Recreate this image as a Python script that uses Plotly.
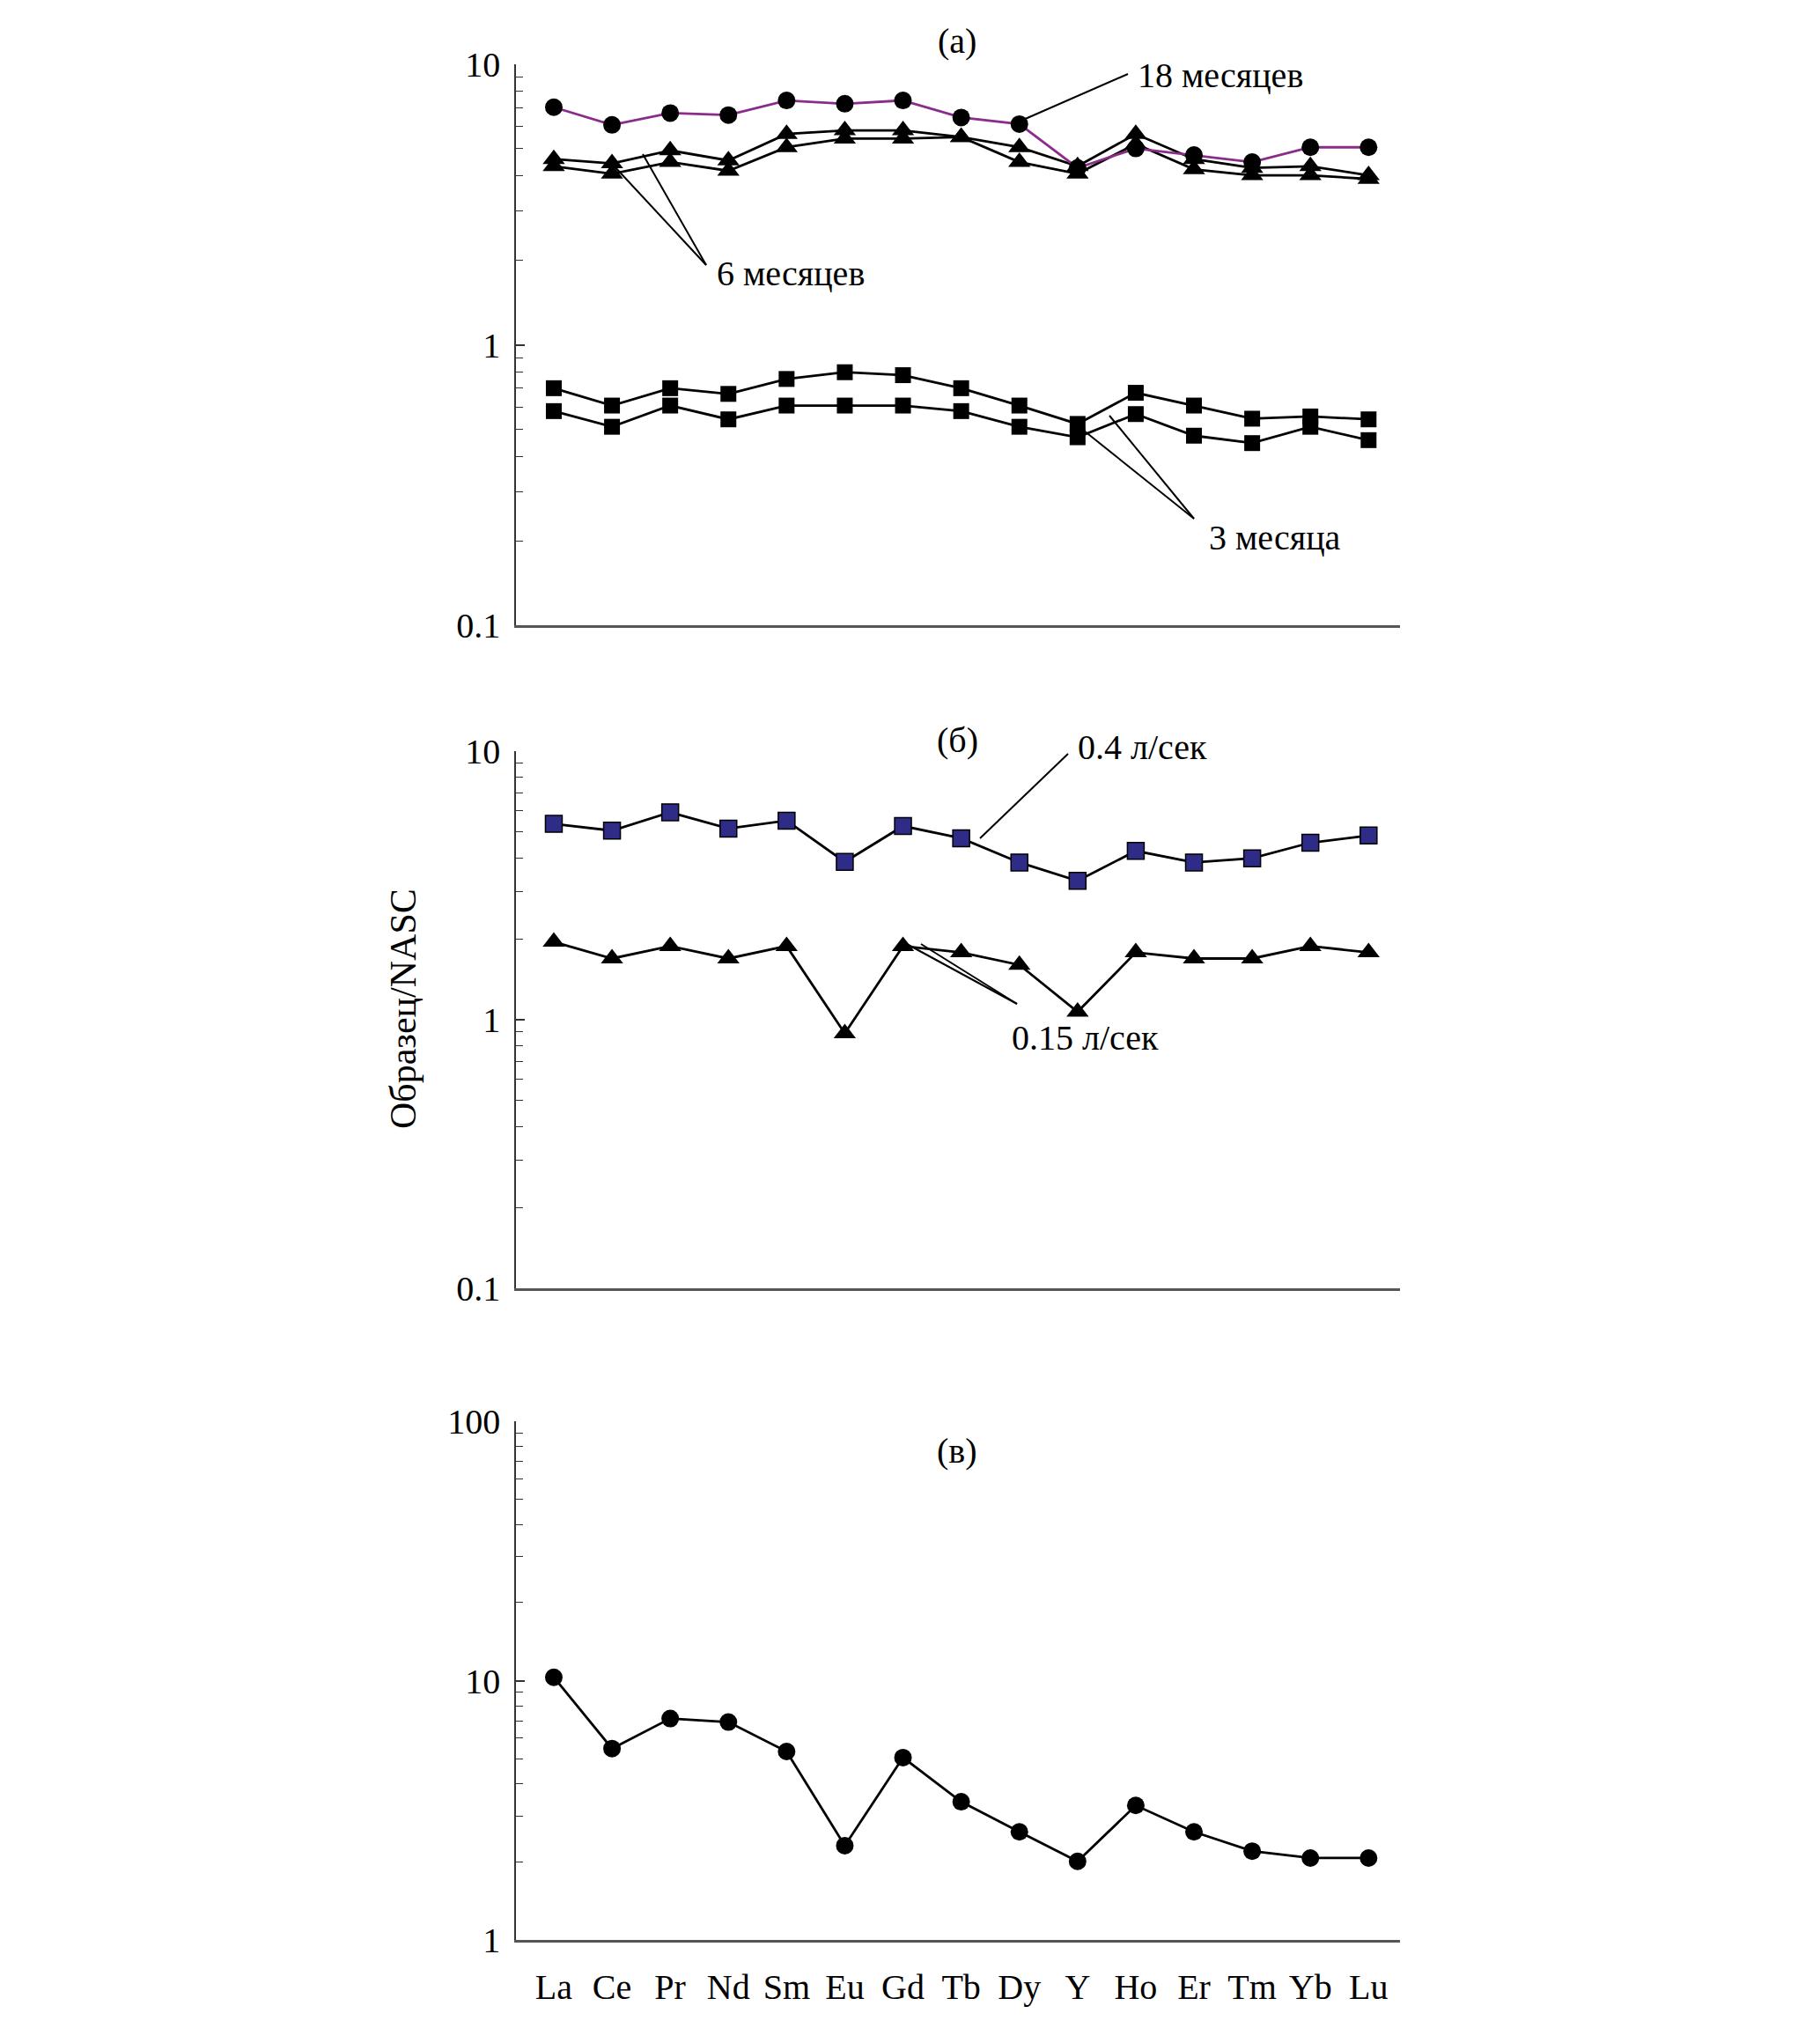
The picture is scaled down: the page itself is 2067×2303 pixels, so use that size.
import plotly.graph_objects as go

elements = ["La", "Ce", "Pr", "Nd", "Sm", "Eu", "Gd", "Tb", "Dy", "Y", "Ho", "Er", "Tm", "Yb", "Lu"]

# Panel (a)
months18 = [7.03, 6.08, 6.70, 6.59, 7.43, 7.23, 7.43, 6.46, 6.12, 4.27, 5.01, 4.75, 4.48, 5.06, 5.06]
months6_a = [4.59, 4.43, 4.93, 4.54, 5.64, 5.81, 5.81, 5.50, 5.06, 4.33, 5.64, 4.59, 4.27, 4.33, 4.02]
months6_b = [4.33, 4.07, 4.48, 4.17, 5.06, 5.43, 5.43, 5.50, 4.48, 4.07, 5.20, 4.22, 4.02, 4.02, 3.90]
months3_a = [0.70, 0.607, 0.70, 0.668, 0.755, 0.798, 0.779, 0.70, 0.607, 0.522, 0.674, 0.607, 0.545, 0.555, 0.542]
months3_b = [0.58, 0.51, 0.607, 0.542, 0.607, 0.607, 0.607, 0.58, 0.51, 0.468, 0.566, 0.474, 0.446, 0.51, 0.457]

# Panel (б)
flow04 = [5.36, 5.06, 5.92, 5.15, 5.51, 3.87, 5.26, 4.74, 3.85, 3.29, 4.25, 3.85, 3.99, 4.56, 4.85]
flow015 = [1.95, 1.69, 1.88, 1.69, 1.88, 0.89, 1.88, 1.78, 1.60, 1.07, 1.78, 1.69, 1.69, 1.88, 1.78]

# Panel (в)
panel_v = [10.3, 5.47, 7.14, 6.92, 5.33, 2.31, 5.05, 3.41, 2.61, 2.01, 3.30, 2.61, 2.20, 2.07, 2.07]

FONT = "Liberation Serif"
W, H = 2067, 2303
OFF = 8  # page body margin


def px(x):
    return (x - OFF) / W


def py(y):
    return 1 - (y - OFF) / H


fig = go.Figure()


def add(vals, xa, ya, symbol, size, mcolor="black", lcolor="black", mline=0):
    fig.add_trace(go.Scatter(
        x=elements, y=vals, xaxis=xa, yaxis=ya, mode="lines+markers",
        line=dict(color=lcolor, width=2.8),
        marker=dict(symbol=symbol, size=size, color=mcolor,
                    line=dict(color="black", width=mline)),
        showlegend=False, cliponaxis=False))


add(months6_a, "x", "y", "triangle-up", 22)
add(months6_b, "x", "y", "triangle-up", 22)
add(months18, "x", "y", "circle", 20, lcolor="#8B2C8B")
add(months3_a, "x", "y", "square", 18)
add(months3_b, "x", "y", "square", 18)

add(flow04, "x2", "y2", "square", 19, mcolor="#2E2C86", mline=1.5)
add(flow015, "x2", "y2", "triangle-up", 22)

add(panel_v, "x3", "y3", "circle", 20)

xdom = [px(586), px(1590)]
xr = [-0.65, 14.54]


def minor_vals(lo, hi):
    out = []
    for k in range(lo, hi):
        for m in range(2, 10):
            out.append(m * 10 ** k)
    return out


def xaxis(labels, anchor):
    return dict(domain=xdom, range=xr, type="category", anchor=anchor,
                automargin=False,
                showline=True, linecolor="#555555", linewidth=2.5,
                showgrid=False, zeroline=False, ticks="",
                showticklabels=labels, ticklabelstandoff=16,
                tickfont=dict(family=FONT, size=40, color="black"))


def yaxis(dom, rng, tvals, ttext, anchor, lo, hi):
    return dict(domain=dom, type="log", range=rng, anchor=anchor,
                automargin=False,
                showline=True, linecolor="#333333", linewidth=1.5,
                showgrid=False, zeroline=False,
                tickvals=tvals, ticktext=ttext, ticks="inside", ticklen=10,
                tickcolor="#333333", tickwidth=1.5, ticklabelstandoff=8,
                tickfont=dict(family=FONT, size=40, color="black"),
                minor=dict(tickvals=minor_vals(lo, hi), ticks="inside", ticklen=8,
                           tickcolor="#333333", tickwidth=1.2, showgrid=False))


fig.update_layout(
    width=W, height=H, margin=dict(l=0, r=0, t=0, b=0, pad=0, autoexpand=False),
    plot_bgcolor="white", paper_bgcolor="white",
    xaxis=xaxis(False, "y"),
    xaxis2=xaxis(False, "y2"),
    xaxis3=xaxis(True, "y3"),
    yaxis=yaxis([py(710), py(73)], [-1, 1], [0.1, 1, 10], ["0.1", "1", "10"], "x", -1, 1),
    yaxis2=yaxis([py(1463), py(853)], [-1, 1], [0.1, 1, 10], ["0.1", "1", "10"], "x2", -1, 1),
    yaxis3=yaxis([py(2203), py(1614)], [0, 2], [1, 10, 100], ["1", "10", "100"], "x3", 0, 2),
)

# pointer lines (pixel positions converted to paper)
pointer_lines = [
    ((1281, 84), (1153, 140)),
    ((802, 301), (696, 187)),
    ((802, 301), (730, 175)),
    ((1356, 589), (1231, 489)),
    ((1356, 589), (1260, 472)),
    ((1213, 856), (1113, 952)),
    ((1155, 1140), (1028, 1071)),
    ((1155, 1140), (1046, 1072)),
]
for (x0, y0), (x1, y1) in pointer_lines:
    fig.add_shape(type="line", xref="paper", yref="paper",
                  x0=px(x0), y0=py(y0), x1=px(x1), y1=py(y1),
                  line=dict(color="black", width=2))

labels = [
    ("18 месяцев", 1290, 85, "left"),
    ("6 месяцев", 812, 310, "left"),
    ("3 месяца", 1371, 610, "left"),
    ("0.4 л/сек", 1222, 848, "left"),
    ("0.15 л/сек", 1147, 1178, "left"),
    ("(а)", 1087, 47, "center"),
    ("(б)", 1087, 840, "center"),
    ("(в)", 1087, 1647, "center"),
]
for text, x, y, al in labels:
    fig.add_annotation(text=text, xref="paper", yref="paper", x=px(x), y=py(y),
                       xanchor=al, yanchor="middle", showarrow=False,
                       font=dict(family=FONT, size=40, color="black"))

fig.add_annotation(text="Образец/NASC", xref="paper", yref="paper",
                   x=px(458), y=py(1146), textangle=-90, showarrow=False,
                   xanchor="center", yanchor="middle",
                   font=dict(family=FONT, size=42, color="black"))

fig.write_html("out.html")
